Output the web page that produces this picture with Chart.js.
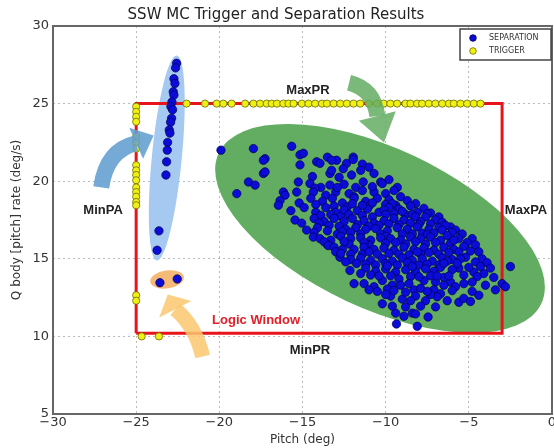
<!DOCTYPE html>
<html>
<head>
<meta charset="utf-8">
<script src="https://cdn.jsdelivr.net/npm/chart.js@4.4.0/dist/chart.umd.min.js"></script>
<style>
  html, body { margin: 0; padding: 0; background: #fff; overflow: hidden; }
  #wrap { width: 554px; height: 448px; overflow: hidden; }
</style>
</head>
<body>
<div id="wrap"><canvas id="c" width="560" height="448" style="width:560px;height:448px"></canvas></div>
<script>
// axis ranges
const pitchRange = [-30, 0];
const rateRange = [5, 30];

// logic window (red box)
const windowPitch = [-25, -3];
const windowRate = [10.2, 25];

// separation: narrow column near MinPA
const sepColumn = [
  [-22.57,27.6],[-22.63,27.3],[-22.73,26.6],[-22.67,26.3],[-22.77,25.76],[-22.73,25.55],
  [-22.85,25.1],[-22.91,24.8],[-22.81,24.6],[-22.87,24.05],[-22.93,23.8],[-23.01,23.3],
  [-22.97,23.1],[-23.11,22.5],[-23.13,22.0],[-23.17,21.25],[-23.21,20.4],[-23.63,16.8],[-23.74,15.55]
];
// separation: two points under MinPR arrow
const sepOrange = [[-23.57,13.46],[-22.53,13.7]];
// separation: main cloud
const sepCluster = [
  [-19.9,22.0],[-17.95,22.1],[-15.65,22.25],
  [-15.15,21.7],[-14.95,21.8],[-13.5,21.55],[-11.95,21.55],[-12.95,21.35],[-11.4,21.1],[-13.25,21.35],
  [-17.25,21.45],[-17.35,21.35],[-14.15,21.25],[-13.95,21.15],[-15.15,21.05],[-12.35,21.15],[-11.95,21.4],[-12.55,20.8],[-11.0,20.9],
  [-17.35,20.5],[-17.25,20.6],[-13.35,20.5],[-13.25,20.7],[-12.05,20.4],[-12.8,20.25],[-10.7,20.5],[-14.4,20.3],[-11.5,20.7],
  [-18.25,19.95],[-17.85,19.75],[-15.25,19.95],[-14.55,19.85],[-13.35,19.75],[-11.35,19.95],[-10.3,19.95],[-10.2,19.85],[-12.5,19.8],[-11.8,19.6],[-9.8,20.1],[-13.9,19.6],
  [-18.95,19.2],[-16.15,19.3],[-16.05,19.1],[-15.35,19.3],[-14.25,19.55],[-14.35,19.3],[-9.3,19.6],[-9.5,19.4],[-13.0,19.3],[-12.2,19.2],[-11.4,19.4],[-10.7,19.3],[-13.6,19.1],[-10.0,19.2],[-11.9,19.0],
  [-12.9,19.6],[-10.8,19.65],
  [-16.35,18.75],[-16.45,18.45],[-15.2,18.6],[-14.5,18.9],[-13.8,18.7],[-13.2,18.9],[-12.6,18.6],[-11.9,18.9],[-11.2,18.7],[-10.5,18.9],[-9.8,18.8],[-9.1,19.0],[-8.7,18.75],[-13.1,18.4],[-11.0,18.4],[-12.3,18.35],[-10.0,18.5],[-9.4,18.45],[-14.2,18.5],
  [-12.0,18.55],[-10.8,18.6],[-9.6,18.55],[-8.2,18.55],
  [-15.7,18.1],[-14.9,18.3],[-14.2,18.0],[-13.6,18.3],[-13.0,18.0],[-11.7,18.1],[-11.1,18.2],[-10.4,18.0],[-9.8,18.3],[-9.2,18.2],[-8.5,18.4],[-7.7,18.25],[-8.1,18.0],[-13.9,17.8],[-11.4,17.8],[-12.7,17.75],[-10.8,17.7],[-9.5,17.9],[-8.8,17.85],
  [-12.5,18.15],[-11.4,18.45],[-10.1,18.15],[-9.0,18.05],[-7.3,17.95],[-13.3,17.85],[-12.2,17.85],[-10.0,17.85],[-8.4,17.85],[-6.8,17.7],
  [-15.45,17.5],[-15.05,17.3],[-14.3,17.6],[-13.7,17.4],[-13.1,17.6],[-12.5,17.4],[-12.0,17.6],[-11.3,17.45],[-10.7,17.3],[-10.1,17.45],[-9.5,17.6],[-8.9,17.5],[-8.2,17.7],[-7.5,17.9],[-7.6,17.7],[-7.0,17.5],[-10.4,17.15],[-12.8,17.1],[-8.5,17.3],[-7.9,17.4],[-11.7,17.2],[-9.2,17.2],
  [-14.0,17.3],[-13.4,17.15],[-11.0,17.1],[-9.8,17.25],[-8.0,17.2],[-7.3,17.25],[-6.6,17.35],[-6.1,17.05],
  [-14.75,16.85],[-14.1,17.0],[-13.5,16.8],[-12.4,16.9],[-11.8,17.0],[-11.2,16.9],[-10.6,16.95],[-9.9,16.8],[-9.3,17.0],[-8.7,16.9],[-8.1,17.05],[-7.4,16.9],[-6.8,17.0],[-6.4,17.15],[-6.6,16.85],[-5.8,16.85],[-9.0,16.6],[-11.5,16.6],[-12.9,16.6],[-10.3,16.6],[-7.8,16.65],[-7.1,16.65],[-8.4,16.6],
  [-14.3,16.7],[-12.1,16.7],[-10.0,16.45],[-7.5,16.55],[-6.0,16.7],[-5.4,16.6],[-12.6,16.75],
  [-14.35,16.4],[-13.95,16.3],[-13.3,16.2],[-12.7,16.45],[-12.1,16.3],[-11.5,16.35],[-10.9,16.2],[-10.3,16.35],[-9.7,16.3],[-9.1,16.2],[-8.5,16.4],[-7.9,16.3],[-7.3,16.4],[-6.7,16.2],[-6.3,16.5],[-5.6,16.3],[-4.8,16.3],[-10.0,16.0],[-12.2,15.95],[-11.0,15.9],[-8.8,15.95],[-7.6,15.95],[-6.1,16.0],[-13.5,15.9],
  [-13.7,16.1],[-12.5,16.1],[-11.3,16.05],[-9.4,16.05],[-8.2,16.1],[-7.0,16.05],[-5.9,16.2],[-5.1,16.05],[-4.6,15.9],
  [-13.45,15.85],[-13.1,15.75],[-12.6,15.6],[-11.9,15.6],[-11.3,15.75],[-10.7,15.6],[-10.1,15.7],[-9.5,15.55],[-8.9,15.75],[-8.3,15.6],[-7.7,15.7],[-7.1,15.55],[-6.5,15.75],[-5.9,15.6],[-5.3,15.8],[-10.5,15.3],[-7.9,15.3],[-12.1,15.3],[-11.4,15.3],[-9.2,15.3],[-8.6,15.25],[-6.8,15.3],[-9.8,15.35],
  [-13.0,15.45],[-11.0,15.45],[-8.1,15.45],[-7.4,15.4],[-6.2,15.4],[-5.6,15.45],[-4.9,15.5],[-4.4,15.45],
  [-12.75,15.1],[-12.7,15.35],[-12.1,14.95],[-11.5,15.05],[-10.9,14.9],[-10.2,15.0],[-9.6,14.85],[-9.0,15.05],[-8.4,14.9],[-7.8,15.0],[-7.2,14.85],[-6.6,15.05],[-6.0,14.95],[-5.2,15.1],[-4.2,15.0],[-9.3,14.6],[-6.8,14.6],[-10.6,14.6],[-8.0,14.6],[-11.2,14.65],[-5.6,14.4],
  [-12.4,14.8],[-10.0,14.7],[-8.7,14.75],[-7.5,14.65],[-6.3,14.85],[-5.5,15.0],[-4.6,14.8],[-3.9,14.75],
  [-12.15,14.25],[-11.75,14.7],[-11.2,14.4],[-10.6,14.2],[-10.0,14.35],[-9.4,14.15],[-8.8,14.3],[-8.2,14.15],[-7.6,14.35],[-7.1,14.2],[-6.7,14.45],[-6.5,14.7],[-5.7,14.7],[-4.7,14.15],[-3.7,14.4],[-4.1,14.05],[-10.9,13.95],[-8.5,13.85],[-9.7,13.9],[-7.3,13.9],
  [-9.9,14.55],[-8.4,14.5],[-6.0,14.3],[-5.0,14.45],[-4.3,14.5],[-5.3,13.95],
  [-11.5,14.05],[-11.9,13.4],[-10.7,13.2],[-11.3,13.4],[-11.0,13.0],[-10.2,13.6],[-9.6,13.3],[-8.6,13.4],[-8.3,13.0],[-7.9,13.1],[-7.0,13.5],[-7.1,13.0],[-6.1,13.5],[-5.8,13.2],[-4.5,13.85],[-3.0,13.4],[-2.8,13.2],[-9.2,13.7],[-7.7,13.6],[-6.5,13.8],[-9.9,13.05],
  [-10.4,13.9],[-9.1,13.3],[-8.0,13.85],[-6.9,13.9],[-6.2,13.9],[-6.5,13.3],[-5.3,13.4],[-4.8,13.5],[-4.0,13.3],[-3.5,13.8],
  [-10.2,12.1],[-6.7,12.75],[-6.9,12.55],[-5.6,12.2],[-5.3,12.45],[-4.4,12.65],[-3.4,13.0],[-9.7,12.6],[-9.0,12.4],[-8.2,12.6],[-7.6,12.3],[-9.4,11.5],[-8.4,11.5],[-8.2,11.45],[-10.0,12.7],[-7.3,12.7],
  [-10.5,12.9],[-9.5,12.95],[-8.8,12.85],[-7.5,12.9],[-6.0,12.95],[-4.8,12.9],[-8.5,12.3],[-6.3,12.3],[-4.9,12.25],[-9.6,11.95],[-8.8,11.9],[-7.9,11.95],[-7.0,11.9],[-8.9,11.3],
  [-7.45,11.25],[-8.1,10.65],[-9.35,10.8],
  [-2.5,14.5]
];

// trigger points along the window edges
const trigLeftPitch = -25;
const trigLeftRate = [24.8,24.47,24.15,23.83,22.86,22.5,22.1,21.03,20.7,20.4,20.06,19.6,19.3,19.0,18.66,18.45,12.65,12.3];
const trigTopRate = 25;
const trigTopPitch = [-21.97,-20.86,-20.16,-19.76,-19.26,-18.45,-17.95,-17.55,-17.15,-16.85,-16.54,-16.15,-15.84,-15.54,
  -15.04,-14.64,-14.24,-13.83,-13.53,-13.13,-12.73,-12.33,-11.93,-11.53,-11.02,-10.52,-10.12,-9.72,-9.31,-8.81,-8.51,
  -8.11,-7.81,-7.41,-7.01,-6.6,-6.2,-5.9,-5.5,-5.1,-4.7,-4.3];
const trigBottomRate = 10;
const trigBottomPitch = [-24.67,-23.63];

// annotation shapes: centre in data units, size in px
const ellipses = [
  { x: -10.34, y: 16.96, rx: 178, ry: 80, rot: 0.436, color: 'rgb(99,173,99)' },
  { x: -23.16, y: 21.5, rx: 15, ry: 103, rot: 0.097, color: 'rgb(166,201,241)' },
  { x: -23.14, y: 13.67, rx: 17, ry: 9, rot: -0.14, color: 'rgb(246,186,120)' }
];
const arrows = [
  { s: [-27.1,19.6], c: [-26.8,22.0], b: [-25.0,22.45], t: [-23.95,22.95], band: 16, head: 34, color: 'rgba(98,158,208,0.88)' },
  { s: [-12.2,26.35], c: [-10.7,25.95], b: [-10.5,24.2], t: [-10.1,22.5], band: 16, head: 38, color: 'rgba(99,173,99,0.85)' },
  { s: [-21.0,8.7], c: [-21.45,10.7], b: [-22.65,11.75], t: [-23.1,12.7], band: 15, head: 36, color: 'rgba(250,200,110,0.85)' }
];
const notes = [
  { text: 'MinPA', x: -26.99, y: 18.1, color: '#222' },
  { text: 'MaxPR', x: -14.67, y: 25.85, color: '#222' },
  { text: 'MaxPA', x: -1.56, y: 18.12, color: '#222' },
  { text: 'MinPR', x: -14.55, y: 9.1, color: '#222' },
  { text: 'Logic Window', x: -17.79, y: 11.02, color: '#e0202a' }
];

const toPts = arr => arr.map(p => ({ x: p[0], y: p[1] }));
const separation = toPts(sepColumn.concat(sepOrange, sepCluster));
const trigger = []
  .concat(trigLeftRate.map(r => ({ x: trigLeftPitch, y: r })))
  .concat(trigTopPitch.map(p => ({ x: p, y: trigTopRate })))
  .concat(trigBottomPitch.map(p => ({ x: p, y: trigBottomRate })));
const windowBox = [
  { x: windowPitch[0], y: windowRate[0] }, { x: windowPitch[0], y: windowRate[1] },
  { x: windowPitch[1], y: windowRate[1] }, { x: windowPitch[1], y: windowRate[0] },
  { x: windowPitch[0], y: windowRate[0] }
];

const sepColor = '#0c0cd8';
const trigColor = '#f0f015';

const overlay = {
  id: 'overlay',
  beforeDatasetsDraw(chart) {
    const { ctx, scales } = chart;
    const a = chart.chartArea;
    ctx.save();
    ctx.beginPath();
    ctx.rect(a.left, a.top, a.right - a.left, a.bottom - a.top);
    ctx.clip();
    ellipses.forEach(e => {
      ctx.beginPath();
      ctx.ellipse(scales.x.getPixelForValue(e.x), scales.y.getPixelForValue(e.y), e.rx, e.ry, e.rot, 0, Math.PI * 2);
      ctx.fillStyle = e.color;
      ctx.fill();
    });
    ctx.restore();
  },
  afterDatasetsDraw(chart) {
    const { ctx, scales } = chart;
    const a = chart.chartArea;
    const P = v => ({ x: scales.x.getPixelForValue(v[0]), y: scales.y.getPixelForValue(v[1]) });

    // arrows
    arrows.forEach(ar => {
      const s = P(ar.s), c = P(ar.c), b = P(ar.b), t = P(ar.t);
      ctx.save();
      ctx.strokeStyle = ar.color;
      ctx.fillStyle = ar.color;
      ctx.lineWidth = ar.band;
      ctx.lineCap = 'butt';
      ctx.beginPath();
      ctx.moveTo(s.x, s.y);
      ctx.quadraticCurveTo(c.x, c.y, b.x, b.y);
      ctx.stroke();
      const dx = t.x - b.x, dy = t.y - b.y, len = Math.hypot(dx, dy);
      const nx = -dy / len, ny = dx / len;
      ctx.beginPath();
      ctx.moveTo(b.x + nx * ar.head / 2, b.y + ny * ar.head / 2);
      ctx.lineTo(t.x, t.y);
      ctx.lineTo(b.x - nx * ar.head / 2, b.y - ny * ar.head / 2);
      ctx.closePath();
      ctx.fill();
      ctx.restore();
    });

    // text notes
    ctx.save();
    ctx.font = 'bold 13px "Liberation Sans", Arial, sans-serif';
    ctx.textAlign = 'center';
    ctx.textBaseline = 'middle';
    notes.forEach(n => {
      ctx.fillStyle = n.color;
      ctx.fillText(n.text, scales.x.getPixelForValue(n.x), scales.y.getPixelForValue(n.y));
    });
    ctx.restore();

    // axes frame
    ctx.save();
    ctx.strokeStyle = '#666';
    ctx.lineWidth = 2;
    ctx.strokeRect(a.left, a.top, a.right - a.left, a.bottom - a.top);
    ctx.restore();

    // legend
    const lw = 91, lh = 31;
    const lx = a.right - lw - 1, ly = a.top + 3;
    ctx.save();
    ctx.fillStyle = '#fff';
    ctx.fillRect(lx, ly, lw, lh);
    ctx.strokeStyle = '#444';
    ctx.lineWidth = 1.5;
    ctx.strokeRect(lx, ly, lw, lh);
    const rows = [['SEPARATION', sepColor, '#000050'], ['TRIGGER', trigColor, '#6b6b00']];
    ctx.font = '8px "DejaVu Sans", sans-serif';
    ctx.textBaseline = 'middle';
    rows.forEach((r, i) => {
      const yy = ly + 9 + i * 13;
      ctx.beginPath();
      ctx.arc(lx + 13, yy, 3.3, 0, Math.PI * 2);
      ctx.fillStyle = r[1];
      ctx.fill();
      ctx.strokeStyle = r[2];
      ctx.lineWidth = 0.8;
      ctx.stroke();
      ctx.fillStyle = '#333';
      ctx.fillText(r[0], lx + 29, yy);
    });
    ctx.restore();
  }
};

const minusFmt = v => (v < 0 ? '\u2212' + Math.abs(v) : String(v));

new Chart(document.getElementById('c'), {
  type: 'scatter',
  data: {
    datasets: [
      {
        label: 'SEPARATION',
        data: separation,
        pointRadius: 4.2,
        pointBackgroundColor: sepColor,
        pointBorderColor: '#000050',
        pointBorderWidth: 0.7
      },
      {
        label: 'TRIGGER',
        data: trigger,
        pointRadius: 3.6,
        pointBackgroundColor: trigColor,
        pointBorderColor: '#6b6b00',
        pointBorderWidth: 0.8
      },
      {
        label: 'window',
        data: windowBox,
        showLine: true,
        borderColor: '#e8141c',
        borderWidth: 3,
        pointRadius: 0,
        fill: false
      }
    ]
  },
  options: {
    responsive: false,
    animation: false,
    layout: { padding: { left: 0, right: 8, top: 0, bottom: 0 } },
    plugins: {
      legend: { display: false },
      tooltip: { enabled: false },
      title: {
        display: true,
        text: 'SSW MC Trigger and Separation Results',
        color: '#222',
        font: { family: 'DejaVu Sans', size: 15, weight: 'normal' },
        padding: { top: 6, bottom: 2 }
      }
    },
    scales: {
      x: {
        type: 'linear',
        min: pitchRange[0],
        max: pitchRange[1],
        afterFit: s => { s.height = 34; },
        ticks: { stepSize: 5, color: '#333', font: { family: 'DejaVu Sans', size: 13 }, padding: 1, callback: minusFmt },
        grid: { color: '#bcbcbc', lineWidth: 1, drawTicks: false },
        border: { display: false, dash: [2, 3] },
        title: { display: true, text: 'Pitch (deg)', color: '#333', font: { family: 'DejaVu Sans', size: 12 }, padding: { top: 0, bottom: 1 } }
      },
      y: {
        min: rateRange[0],
        max: rateRange[1],
        afterFit: s => { s.width = 53; },
        ticks: { stepSize: 5, color: '#333', font: { family: 'DejaVu Sans', size: 13 }, padding: 4 },
        grid: { color: '#bcbcbc', lineWidth: 1, drawTicks: false },
        border: { display: false, dash: [2, 3] },
        title: { display: true, text: 'Q body [pitch] rate (deg/s)', color: '#333', font: { family: 'DejaVu Sans', size: 12 }, padding: { top: 10, bottom: 0 } }
      }
    }
  },
  plugins: [overlay]
});
</script>
</body>
</html>
